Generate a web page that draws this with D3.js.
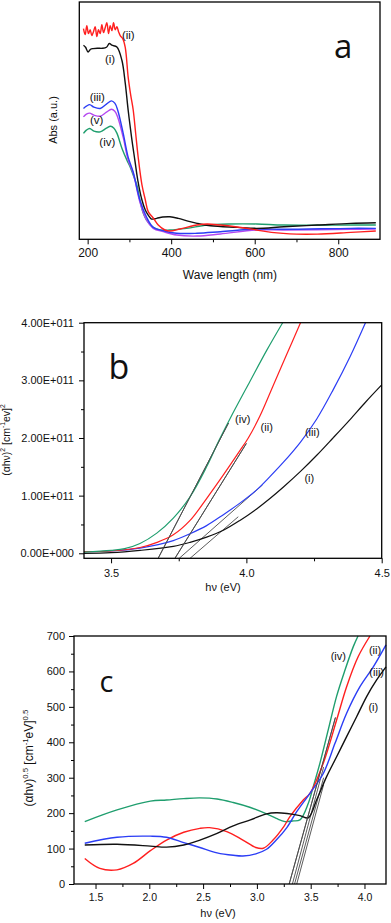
<!DOCTYPE html>
<html>
<head>
<meta charset="utf-8">
<script src="https://cdn.jsdelivr.net/npm/d3@7"></script>
<style>
body { margin: 0; background: #fff; }
svg { display: block; font-family: "Liberation Sans", Arial, sans-serif; }
</style>
</head>
<body>
<script>

// ---- panel a : absorbance vs wavelength (nm) ----
var absI = [[190,1.963],[195,1.942],[201,1.895],[207,1.922],[213,1.929],[225,1.932],[235,1.932],[245,1.942],[252,1.980],[258,1.963],[270,1.945],[282,1.811],[290,1.579],[297,1.306],[305,1.036],[313,0.801],[320,0.599],[330,0.397],[338,0.296],[345,0.245],[353,0.205],[365,0.212],[380,0.225],[397,0.228],[417,0.212],[440,0.184],[462,0.161],[494,0.137],[558,0.121],[605,0.111],[670,0.127],[750,0.144],[830,0.161],[890,0.168]];
var absII = [[190,2.13],[194,2.07],[198,2.16],[202,2.08],[206,2.12],[210,2.06],[214,2.10],[218,2.15],[222,2.05],[226,2.12],[230,2.08],[234,2.17],[238,2.09],[242,2.14],[246,2.19],[250,2.08],[254,2.16],[258,2.11],[262,2.19],[266,2.12],[270,2.15],[274,2.10],[278,2.06],[284,2.03],[290,1.94],[297,1.64],[303,1.46],[309,1.31],[315,1.07],[321,0.83],[330,0.55],[338,0.40],[345,0.28],[357,0.215],[369,0.144],[385,0.094],[397,0.084],[421,0.104],[462,0.144],[486,0.155],[518,0.144],[558,0.124],[597,0.10],[640,0.07],[700,0.052],[750,0.052],[830,0.07],[890,0.084]];
var absIII = [[190,1.323],[197,1.346],[205,1.362],[215,1.336],[230,1.323],[245,1.367],[257,1.400],[265,1.377],[272,1.306],[285,1.074],[297,0.831],[309,0.680],[325,0.397],[341,0.225],[357,0.121],[381,0.087],[413,0.061],[462,0.061],[518,0.077],[605,0.104],[670,0.101],[830,0.111],[890,0.111]];
var absIV = [[190,1.071],[197,1.104],[205,1.121],[215,1.094],[230,1.087],[245,1.124],[255,1.144],[263,1.124],[270,1.074],[282,0.922],[294,0.801],[302,0.730],[309,0.649],[318,0.548],[325,0.397],[333,0.266],[341,0.195],[357,0.121],[373,0.094],[397,0.094],[437,0.111],[486,0.144],[541,0.155],[605,0.155],[670,0.144],[830,0.144],[890,0.144]];
var absV = [[190,1.238],[197,1.266],[205,1.276],[215,1.256],[230,1.245],[245,1.286],[257,1.316],[265,1.296],[272,1.235],[285,1.033],[297,0.801],[309,0.670],[325,0.377],[341,0.195],[357,0.111],[381,0.077],[413,0.043],[462,0.033],[518,0.054],[605,0.094],[670,0.094],[830,0.101],[890,0.104]];
var waveMajor = [200, 400, 600, 800];
var waveMinor = [300, 500, 700];

// ---- panel b : (ahv)^2 in units of 1E+011 vs hv ----
var sqI = [[3.4,0.0],[3.5,0.01],[3.607,0.05],[3.73,0.12],[3.792,0.19],[3.853,0.28],[3.915,0.40],[3.976,0.57],[4.038,0.77],[4.087,0.95],[4.137,1.15],[4.2,1.42],[4.26,1.70],[4.32,2.0],[4.383,2.32],[4.44,2.62],[4.5,2.92]];
var sqII = [[3.4,0.03],[3.5,0.04],[3.607,0.10],[3.67,0.19],[3.73,0.32],[3.792,0.57],[3.853,0.95],[3.915,1.36],[3.976,1.78],[4.007,2.0],[4.05,2.38],[4.1,2.92],[4.15,3.46],[4.2,4.0]];
var sqIII = [[3.4,0.03],[3.5,0.04],[3.607,0.09],[3.73,0.22],[3.792,0.34],[3.853,0.48],[3.915,0.67],[3.976,0.87],[4.038,1.10],[4.087,1.33],[4.137,1.58],[4.2,1.93],[4.26,2.33],[4.32,2.83],[4.383,3.41],[4.44,4.0]];
var sqIV = [[3.4,0.02],[3.5,0.05],[3.55,0.08],[3.607,0.17],[3.669,0.35],[3.73,0.61],[3.792,0.98],[3.853,1.50],[3.899,1.96],[3.939,2.33],[4.013,2.98],[4.075,3.52],[4.134,4.0]];
var fitB = [
  [[3.674,-0.087],[3.934,2.26]],
  [[3.736,-0.087],[4.0,1.906]],
  [[3.752,-0.087],[4.06,1.188]],
  [[3.792,-0.087],[3.97,0.634]]
];
var hvMajorB = [3.5, 4.0, 4.5];
var hvMinorB = [3.75, 4.25];
var sqMajor = [0, 1, 2, 3, 4];
var sqMinor = [0.5, 1.5, 2.5, 3.5];

// ---- panel c : (ahv)^0.5 vs hv ----
var rtI = [[1.4,110],[1.7,112],[2.01,107],[2.16,104],[2.32,110],[2.47,124],[2.63,143],[2.78,164],[2.94,181],[3.09,198],[3.18,201],[3.28,199],[3.40,193],[3.478,187],[3.555,237],[3.648,303],[3.741,359],[3.834,416],[3.927,472],[4.02,529],[4.113,576],[4.2,613]];
var rtII = [[1.4,72],[1.54,44],[1.70,40],[1.85,58],[2.01,94],[2.16,124],[2.32,146],[2.47,157],[2.56,159],[2.72,148],[2.87,124],[2.99,103],[3.06,101],[3.15,124],[3.25,162],[3.307,190],[3.431,237],[3.493,256],[3.617,341],[3.741,463],[3.834,557],[3.942,642],[4.051,700]];
var rtIII = [[1.4,115],[1.7,132],[2.01,135],[2.16,132],[2.32,117],[2.47,103],[2.63,88],[2.78,81],[2.87,79],[2.99,85],[3.09,98],[3.18,124],[3.28,160],[3.37,204],[3.493,256],[3.617,312],[3.726,397],[3.834,482],[3.958,557],[4.082,613],[4.2,675]];
var rtIV = [[1.4,176],[1.7,209],[2.01,234],[2.16,237],[2.32,241],[2.47,243],[2.63,240],[2.78,230],[2.94,216],[3.09,198],[3.18,185],[3.261,176],[3.33,178],[3.40,181],[3.478,228],[3.524,275],[3.586,341],[3.663,435],[3.74,529],[3.819,604],[3.896,670],[3.94,700]];
var fitC = [
  [[3.30,0],[3.73,470]],
  [[3.33,0],[3.62,330]],
  [[3.35,0],[3.62,300]],
  [[3.37,0],[3.62,280]]
];
var hvMajorC = [1.5, 2.0, 2.5, 3.0, 3.5, 4.0];
var hvMinorC = [1.75, 2.25, 2.75, 3.25, 3.75];
var rtMajor = [0, 100, 200, 300, 400, 500, 600, 700];
var rtMinor = [50, 150, 250, 350, 450, 550, 650];

var colors = {i: "#111111", ii: "#ff1f1f", iii: "#2b3df5", iv: "#1f9e6e", v: "#b548f0"};

var svg = d3.select("body").append("svg")
.attr("width", 391)
.attr("height", 923);

// draws ticks + labels along one side, then removes the axis path
function ticks(g, axis, pos, major, minor, fmt, size, pad, fs) {
  var ga = g.append("g").attr("transform", pos);
  ga.call(axis.tickValues(minor).tickSize(3).tickFormat(""));
  ga.select(".domain").remove();
  var gb = g.append("g").attr("transform", pos);
  gb.call(axis.tickValues(major).tickSize(size).tickPadding(pad).tickFormat(fmt));
  gb.select(".domain").remove();
  g.selectAll(".tick line").attr("stroke", "#000").attr("stroke-width", 1);
  gb.selectAll("text").attr("font-size", fs).attr("fill", "#111")
  .attr("font-family", "'Liberation Sans', Arial, sans-serif");
}

function frame(g, x, y) {
  g.append("rect")
  .attr("x", x.range()[0])
  .attr("y", y.range()[1])
  .attr("width", x.range()[1] - x.range()[0])
  .attr("height", y.range()[0] - y.range()[1])
  .attr("fill", "none")
  .attr("stroke", "#000")
  .attr("stroke-width", 1.3);
}

function curves(g, x, y, series, width) {
  var line = d3.line()
  .x(d => x(d[0]))
  .y(d => y(d[1]))
  .curve(d3.curveCatmullRom.alpha(0.5));
  g.selectAll(null)
  .data(series)
  .enter()
  .append("path")
  .attr("d", d => line(d.data))
  .attr("fill", "none")
  .attr("stroke", d => colors[d.name])
  .attr("stroke-width", width)
  .attr("stroke-linejoin", "round");
}

function fits(g, x, y, segs) {
  g.selectAll(null)
  .data(segs)
  .enter()
  .append("line")
  .attr("x1", d => x(d[0][0]))
  .attr("y1", d => y(d[0][1]))
  .attr("x2", d => x(d[1][0]))
  .attr("y2", d => y(d[1][1]))
  .attr("stroke", "#4a4a4a")
  .attr("stroke-width", 0.9);
}

function names(g, list, fs) {
  g.selectAll(null)
  .data(list)
  .enter()
  .append("text")
  .attr("x", d => d[1])
  .attr("y", d => d[2])
  .attr("dy", "0.35em")
  .attr("text-anchor", "middle")
  .attr("font-size", fs)
  .attr("fill", "#111")
  .text(d => d[0]);
}

// rotated title; superscripts raised, the shift is undone on the next run
function ytitle(g, x, y, parts, fs) {
  var t = g.append("text")
  .attr("transform", `translate(${x},${y}) rotate(-90)`)
  .attr("text-anchor", "middle")
  .attr("dy", "0.35em")
  .attr("font-size", fs)
  .attr("fill", "#111");
  var back = 0;
  parts.forEach(function(p) {
    if (p.sup) {
      t.append("tspan").attr("dy", back - fs * 0.4).attr("font-size", fs * 0.65).text(p.sup);
      back = fs * 0.4;
    } else {
      t.append("tspan").attr("dy", back).text(p.t);
      back = 0;
    }
  });
}

// ================= panel a =================
var xA = d3.scaleLinear().domain([180, 900]).range([79.3, 380]);
var yA = d3.scaleLinear().domain([0, 2.4]).range([239.3, 2]);
var gA = svg.append("g");

curves(gA, xA, yA, [
  {name: "iv", data: absIV},
  {name: "v", data: absV},
  {name: "iii", data: absIII},
  {name: "i", data: absI},
  {name: "ii", data: absII}
], 1.4);
frame(gA, xA, yA);
ticks(gA, d3.axisBottom(xA), `translate(0,${yA.range()[0]})`, waveMajor, waveMinor, d3.format("d"), 5, 4.5, 12);

gA.append("text")
.attr("x", 230).attr("y", 275).attr("dy", "0.35em")
.attr("text-anchor", "middle").attr("font-size", 12).attr("fill", "#111")
.text("Wave length (nm)");
ytitle(gA, 57, 120, [{t: "Abs (a.u.)"}], 11);

names(gA, [["(ii)", 128.3, 35], ["(i)", 110, 59], ["(iii)", 97.3, 97], ["(v)", 96.7, 120], ["(iv)", 107.3, 141.7]], 11.5);

gA.append("text")
.attr("x", 334).attr("y", 58)
.attr("font-family", "'Open Sans', sans-serif")
.attr("font-size", 33).attr("fill", "#111")
.text("a");

// ================= panel b =================
var xB = d3.scaleLinear().domain([3.4, 4.5]).range([84, 381.7]);
var yB = d3.scaleLinear().domain([-0.087, 4.0]).range([558.3, 322.7]);
var gB = svg.append("g");

fits(gB, xB, yB, fitB);
curves(gB, xB, yB, [
  {name: "i", data: sqI},
  {name: "iii", data: sqIII},
  {name: "ii", data: sqII},
  {name: "iv", data: sqIV}
], 1.2);
fits(gB, xB, yB, fitB.slice(0, 2));
frame(gB, xB, yB);
ticks(gB, d3.axisBottom(xB), `translate(0,${yB.range()[0]})`, hvMajorB, hvMinorB, d3.format(".1f"), 5, 5.5, 11);
ticks(gB, d3.axisLeft(yB), `translate(${xB.range()[0]},0)`, sqMajor, sqMinor,
  d => d === 0 ? "0.00E+000" : d.toFixed(2) + "E+011", 5, 5, 11);

gB.append("text")
.attr("x", 223).attr("y", 587).attr("dy", "0.35em")
.attr("text-anchor", "middle").attr("font-size", 11).attr("fill", "#111")
.text("h\u03bd (eV)");
ytitle(gB, 9.5, 440, [{t: "(\u03b1h\u03bd)"}, {sup: "2"}, {t: " [cm"}, {sup: "-1"}, {t: "ev]"}, {sup: "2"}], 10.5);

names(gB, [["(iv)", 242.7, 419.3], ["(ii)", 266.7, 426.7], ["(iii)", 312.3, 432.3], ["(i)", 309.3, 478.3]], 11);

gB.append("text")
.attr("x", 108.5).attr("y", 379)
.attr("font-family", "'Open Sans', sans-serif")
.attr("font-size", 34).attr("fill", "#111")
.text("b");

// ================= panel c =================
var xC = d3.scaleLinear().domain([1.3, 4.2]).range([74, 386]);
var yC = d3.scaleLinear().domain([0, 700]).range([884, 636]);
var gC = svg.append("g");

fits(gC, xC, yC, fitC);
curves(gC, xC, yC, [
  {name: "iv", data: rtIV},
  {name: "ii", data: rtII},
  {name: "iii", data: rtIII},
  {name: "i", data: rtI}
], 1.4);
fits(gC, xC, yC, fitC.slice(0, 1));
frame(gC, xC, yC);
ticks(gC, d3.axisBottom(xC), `translate(0,${yC.range()[0]})`, hvMajorC, hvMinorC, d3.format(".1f"), 5, 5, 10.5);
ticks(gC, d3.axisLeft(yC), `translate(${xC.range()[0]},0)`, rtMajor, rtMinor, d3.format("d"), 5, 4, 11);

gC.append("text")
.attr("x", 218).attr("y", 913).attr("dy", "0.35em")
.attr("text-anchor", "middle").attr("font-size", 11).attr("fill", "#111")
.text("h\u03bd (eV)");
ytitle(gC, 33, 758, [{t: "(\u03b1h\u03bd)"}, {sup: "0.5"}, {t: " [cm"}, {sup: "-1"}, {t: "eV]"}, {sup: "0.5"}], 12);

names(gC, [["(iv)", 338.3, 656], ["(ii)", 375, 650], ["(iii)", 376.7, 671.7], ["(i)", 373.3, 706.7]], 11);

gC.append("text")
.attr("x", 99.5).attr("y", 692)
.attr("font-family", "'Open Sans', sans-serif")
.attr("font-size", 29).attr("fill", "#111")
.text("c");

</script>
</body>
</html>
